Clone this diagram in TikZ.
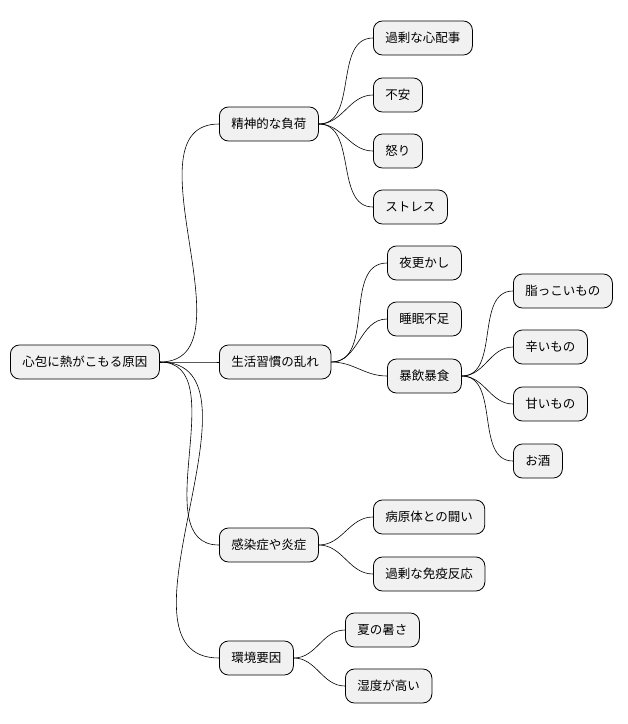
\documentclass[tikz,border=0pt]{standalone}
\usepackage{fontspec}
\setmainfont{Noto Sans CJK JP}
\definecolor{nodefill}{RGB}{241, 241, 241}
\begin{document}
\begin{tikzpicture}[x=1pt, y=1pt]
[every node/.style={inner sep=0pt}]
\tikzset{topic/.style={draw=black, fill=nodefill, rounded corners=9pt, line width=0.8pt, minimum height=34pt, inner xsep=12pt, anchor=west, font=\fontsize{12.5}{14}\selectfont},
link/.style={line width=0.6pt, color=black}}
\useasboundingbox (0,0) rectangle (628,-724);
\node (root) [topic] at (10.0pt, -362.0pt) {心包に熱がこもる原因};
\node (mental) [topic] at (219.0pt, -124.0pt) {精神的な負荷};
\node (worry) [topic] at (373.0pt, -38.0pt) {過剰な心配事};
\node (anxiety) [topic] at (373.0pt, -95.0pt) {不安};
\node (anger) [topic] at (373.0pt, -151.0pt) {怒り};
\node (stress) [topic] at (373.0pt, -207.0pt) {ストレス};
\node (habit) [topic] at (219.0pt, -362.0pt) {生活習慣の乱れ};
\node (night) [topic] at (387.0pt, -263.0pt) {夜更かし};
\node (sleep) [topic] at (387.0pt, -319.0pt) {睡眠不足};
\node (binge) [topic] at (387.0pt, -376.0pt) {暴飲暴食};
\node (oily) [topic] at (513.0pt, -291.0pt) {脂っこいもの};
\node (spicy) [topic] at (513.0pt, -347.0pt) {辛いもの};
\node (sweet) [topic] at (513.0pt, -404.0pt) {甘いもの};
\node (sake) [topic] at (513.0pt, -461.0pt) {お酒};
\node (infect) [topic] at (219.0pt, -545.0pt) {感染症や炎症};
\node (fight) [topic] at (373.0pt, -517.0pt) {病原体との闘い};
\node (immune) [topic] at (373.0pt, -574.0pt) {過剰な免疫反応};
\node (env) [topic] at (219.0pt, -658.0pt) {環境要因};
\node (heat) [topic] at (345.0pt, -630.0pt) {夏の暑さ};
\node (humid) [topic] at (345.0pt, -686.0pt) {湿度が高い};
\foreach \p/\c in {root/mental, root/habit, root/infect, root/env,
  mental/worry, mental/anxiety, mental/anger, mental/stress,
  habit/night, habit/sleep, habit/binge,
  binge/oily, binge/spicy, binge/sweet, binge/sake,
  infect/fight, infect/immune, env/heat, env/humid}
  \draw [link] (\p.east) to[out=0, in=180] (\c.west);
\end{tikzpicture}
\end{document}
